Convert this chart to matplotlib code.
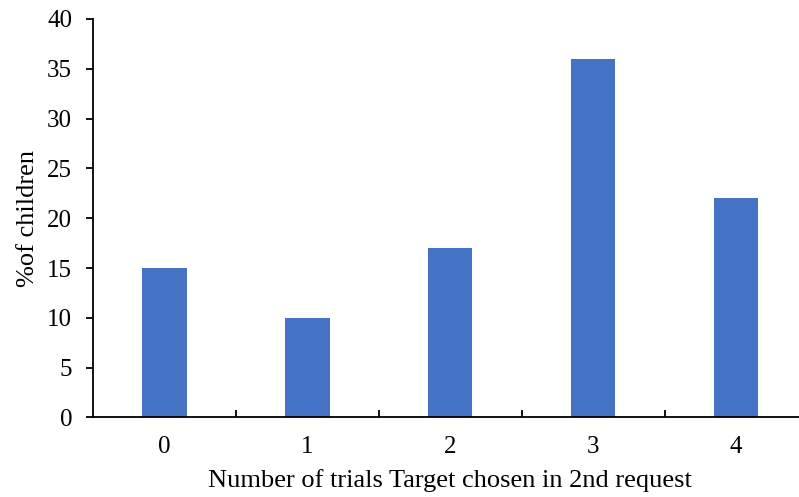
import matplotlib.pyplot as plt
from matplotlib.ticker import MultipleLocator, FixedLocator

plt.rcParams['font.family'] = ['Liberation Serif', 'DejaVu Serif']

trials = ['0', '1', '2', '3', '4']
pct_children = [15, 10, 17, 36, 22]

fig = plt.figure(figsize=(7.99, 4.97), dpi=100)
ax = fig.add_axes([0.1164, 0.16, 0.8943, 0.8018])

x = list(range(len(trials)))
ax.bar(x, pct_children, width=0.31, color='#4472C4')

ax.set_xlim(-0.5, len(trials) - 0.5)
ax.set_ylim(0, 40)
ax.yaxis.set_major_locator(MultipleLocator(5))
ax.set_xticks(x)
ax.set_xticklabels(trials)
ax.xaxis.set_minor_locator(FixedLocator([i + 0.5 for i in range(len(trials) - 1)]))

for side in ['top', 'right']:
    ax.spines[side].set_visible(False)
for side in ['left', 'bottom']:
    ax.spines[side].set_linewidth(1.3)

ax.tick_params(axis='y', direction='out', length=5, width=1.3, pad=10, labelsize=18)
ax.tick_params(axis='x', which='major', length=0, pad=13, labelsize=18)
ax.tick_params(axis='x', which='minor', direction='in', length=5, width=1.3)

ax.set_xlabel('Number of trials Target chosen in 2nd request', fontsize=19, labelpad=8)
ax.set_ylabel('%of children', fontsize=19, labelpad=6)

fig.savefig('out.png', dpi=100)
